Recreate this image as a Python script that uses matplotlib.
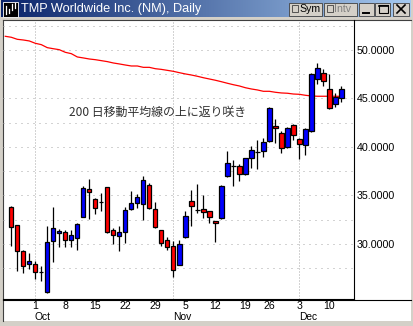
import matplotlib
matplotlib.use("Agg")
import matplotlib.pyplot as plt
import numpy as np
import pandas as pd
from matplotlib.patches import Rectangle
from matplotlib.colors import LinearSegmentedColormap

W, H = 413, 326

title = "TMP Worldwide Inc. (NM), Daily"
note = "200 日移動平均線の上に返り咲き"

# trading days from 2001-09-24 (Thanksgiving closed)
days = pd.bdate_range("2001-09-24", "2001-12-12")
days = days[days != pd.Timestamp("2001-11-22")]

# daily candles, 2001-09-25 .. 2001-12-12
opens = [33.78, 31.93, 29.25, 27.90, 27.90, 27.12, 25.02, 30.28, 31.10, 31.24,
         30.38, 30.59, 32.82, 35.64, 34.61, 34.37, 35.85, 31.41, 30.79, 31.20,
         33.64, 34.23, 34.09, 36.08, 33.57, 31.41, 30.38, 29.76, 27.87, 30.76,
         34.40, 33.50, 33.64, 33.37, 32.37, 32.68, 37.01, 38.04, 38.04, 37.18,
         38.83, 39.48, 39.62, 40.65, 42.13, 41.48, 39.97, 42.24, 40.79, 40.21,
         41.62, 47.01, 47.60, 45.95, 44.47, 45.02]
highs = [33.92, 31.93, 29.35, 29.04, 28.25, 27.76, 31.86, 33.85, 31.51, 31.40,
         31.41, 32.20, 35.98, 36.70, 34.77, 35.26, 35.85, 31.65, 31.86, 33.85,
         35.46, 35.12, 37.01, 36.32, 34.33, 31.41, 30.76, 30.28, 30.41, 33.37,
         35.57, 36.19, 35.02, 33.44, 32.40, 36.05, 39.55, 38.63, 38.20, 38.90,
         40.10, 40.72, 40.90, 44.10, 42.89, 41.65, 42.05, 42.37, 40.90, 41.93,
         47.60, 48.70, 48.01, 47.49, 45.57, 46.32]
lows = [29.79, 27.25, 27.04, 27.39, 26.39, 26.19, 25.00, 28.18, 29.72, 29.72,
        29.66, 29.40, 32.75, 32.58, 33.09, 33.43, 31.10, 30.00, 29.25, 30.14,
        33.50, 33.74, 32.47, 33.60, 31.65, 29.82, 29.38, 26.63, 27.80, 30.65,
        31.89, 33.23, 32.71, 32.20, 30.24, 32.61, 36.95, 35.95, 36.49, 37.10,
        37.84, 37.77, 38.94, 40.55, 40.45, 39.41, 39.90, 40.72, 38.73, 39.14,
        41.52, 46.49, 46.32, 43.88, 44.16, 44.67]
closes = [31.72, 29.25, 27.73, 28.25, 27.11, 27.12, 30.21, 31.65, 31.34, 30.38,
          30.93, 32.06, 35.74, 35.39, 33.68, 34.37, 31.20, 30.93, 31.20, 33.47,
          34.23, 34.88, 36.57, 33.74, 31.75, 30.07, 29.66, 27.32, 29.97, 32.85,
          33.92, 33.50, 33.30, 32.75, 32.13, 35.95, 38.35, 38.04, 37.22, 38.83,
          39.66, 39.48, 40.48, 44.02, 41.93, 39.86, 41.93, 41.24, 40.28, 41.82,
          47.49, 48.11, 46.77, 44.02, 45.12, 45.95]

# 200-day moving average, 2001-09-24 .. 2001-12-12
ma200 = [51.41, 51.31, 51.10, 51.03, 50.93, 50.69, 50.55, 50.24, 50.13, 50.03,
         49.76, 49.62, 49.28, 49.18, 49.07, 49.00, 48.90, 48.80, 48.66, 48.56,
         48.45, 48.35, 48.35, 48.21, 48.21, 48.07, 48.00, 47.90, 47.80, 47.66,
         47.53, 47.42, 47.29, 47.14, 47.01, 46.88, 46.73, 46.57, 46.42, 46.29,
         46.11, 45.98, 45.88, 45.74, 45.74, 45.64, 45.57, 45.54, 45.46, 45.43,
         45.33, 45.26, 45.23, 45.23, 45.23, 45.23, 45.22]

y_ticks = [30, 35, 40, 45, 50]

plt.rcParams['font.family'] = ['Liberation Sans', 'DejaVu Sans']


def px(l, t, w, h):
	return [l / W, 1 - (t + h) / H, w / W, h / H]


fig = plt.figure(figsize=(W / 100, H / 100), dpi=100)
fig.patch.set_facecolor('#d4d0c8')

# window frame drawn in pixel coords
bg = fig.add_axes([0, 0, 1, 1])
bg.set_xlim(0, W)
bg.set_ylim(H, 0)
bg.axis('off')

cmap = LinearSegmentedColormap.from_list('tb', ['#0a246a', '#a6caf0'])
bg.imshow(np.linspace(0, 1, 256)[None, :], cmap=cmap, aspect='auto',
	extent=(1, 411, 17.5, 0.5), zorder=1)
bg.add_patch(Rectangle((3, 20), 408, 301, facecolor='white', edgecolor='none', zorder=1))
bg.plot([2.5, 2.5], [19.5, 321], color='#404040', lw=0.8, zorder=2)
bg.plot([2.5, 411], [19.5, 19.5], color='#404040', lw=0.8, zorder=2)
bg.plot([3, 411], [299.5, 299.5], color='black', lw=0.8, zorder=5)

# icon
bg.add_patch(Rectangle((3, 1.5), 15, 15, facecolor='black', edgecolor='white', lw=0.6, zorder=3))
for xi, y0, y1 in [(6, 6, 14), (9, 9, 13), (12, 4, 10), (15, 3, 8)]:
	bg.plot([xi, xi], [y0, y1], color='white', lw=0.9, zorder=4)
bg.text(21, 9, title, color='white', fontsize=9.2, va='center', ha='left',
	family=['Liberation Sans Narrow', 'Liberation Sans'], zorder=4)

# title bar buttons
for (l, r) in [(289, 322), (324, 357), (359, 374), (375, 390), (393, 409)]:
	bg.add_patch(Rectangle((l, 2.5), r - l, 13, facecolor='#d4d0c8',
		edgecolor='#404040', lw=0.6, zorder=3))
for l, lab, col in [(292, 'Sym', 'black'), (327, 'Intv', '#808080')]:
	bg.add_patch(Rectangle((l, 5), 6, 7, facecolor='#d4d0c8', edgecolor='#404040', lw=0.6, zorder=4))
	bg.text(l + 7, 9, lab, color=col, fontsize=7.6, va='center', ha='left', zorder=4)
bg.plot([363, 369], [13, 13], color='black', lw=1.4, zorder=4)
bg.add_patch(Rectangle((378.5, 5), 9, 8, facecolor='none', edgecolor='black', lw=0.8, zorder=4))
bg.plot([378.5, 387.5], [5.6, 5.6], color='black', lw=1.2, zorder=4)
bg.plot([397, 405], [5, 13], color='black', lw=1.2, zorder=4)
bg.plot([397, 405], [13, 5], color='black', lw=1.2, zorder=4)

# price chart
ax = fig.add_axes(px(3, 20, 351, 279))
ax.set_facecolor('none')
ax.set_xlim(-0.38, 58.1)
ax.set_ylim(24.33, 53.09)

o = np.array(opens)
c = np.array(closes)
xs = np.arange(1, len(o) + 1)
colors = np.where(c >= o, '#0000ff', '#ff0000')

for v in np.arange(27.5, 53, 2.5):
	ax.axhline(v, color='#a8a8a8', lw=0.72, ls=(0, (1, 5)), zorder=0)

month_pos = [i for i in range(1, len(days)) if days[i].month != days[i - 1].month]
for p in month_pos:
	ax.axvline(p, color='#a8a8a8', lw=0.72, ls=(0, (1, 2)), zorder=0)

ax.plot(np.arange(len(ma200)), ma200, color='#ff0000', lw=0.9, zorder=1)
ax.vlines(xs, lows, highs, color='black', lw=0.9, zorder=2)
ax.bar(xs, c - o, bottom=o, width=0.72, color=colors, edgecolor='black',
	linewidth=0.9, zorder=3)

ax.text(10.6, 43.6, note, fontsize=8.6, color='#303030', va='center', ha='left',
	family=['Noto Sans CJK JP', 'DejaVu Sans'])

for s in ['left', 'top']:
	ax.spines[s].set_visible(False)
ax.spines['right'].set_linewidth(0.8)
ax.spines['bottom'].set_linewidth(0.8)

ax.yaxis.tick_right()
ax.set_yticks(y_ticks, labels=[f"{v:.4f}" for v in y_ticks])
ax.tick_params(axis='y', length=0, pad=2, labelsize=7.7)

mondays = [i for i in range(len(days)) if days[i].weekday() == 0 and i > 0]
ax.set_xticks(mondays, labels=[str(days[i].day) for i in mondays])
ax.tick_params(axis='x', length=0, pad=1.5, labelsize=7.6)

for p in month_pos:
	ax.text(p - 0.1, -0.048, days[p].strftime('%b'), transform=ax.get_xaxis_transform(),
		ha='left', va='top', fontsize=7.4)

fig.savefig('out.png', dpi=100, facecolor=fig.get_facecolor())
